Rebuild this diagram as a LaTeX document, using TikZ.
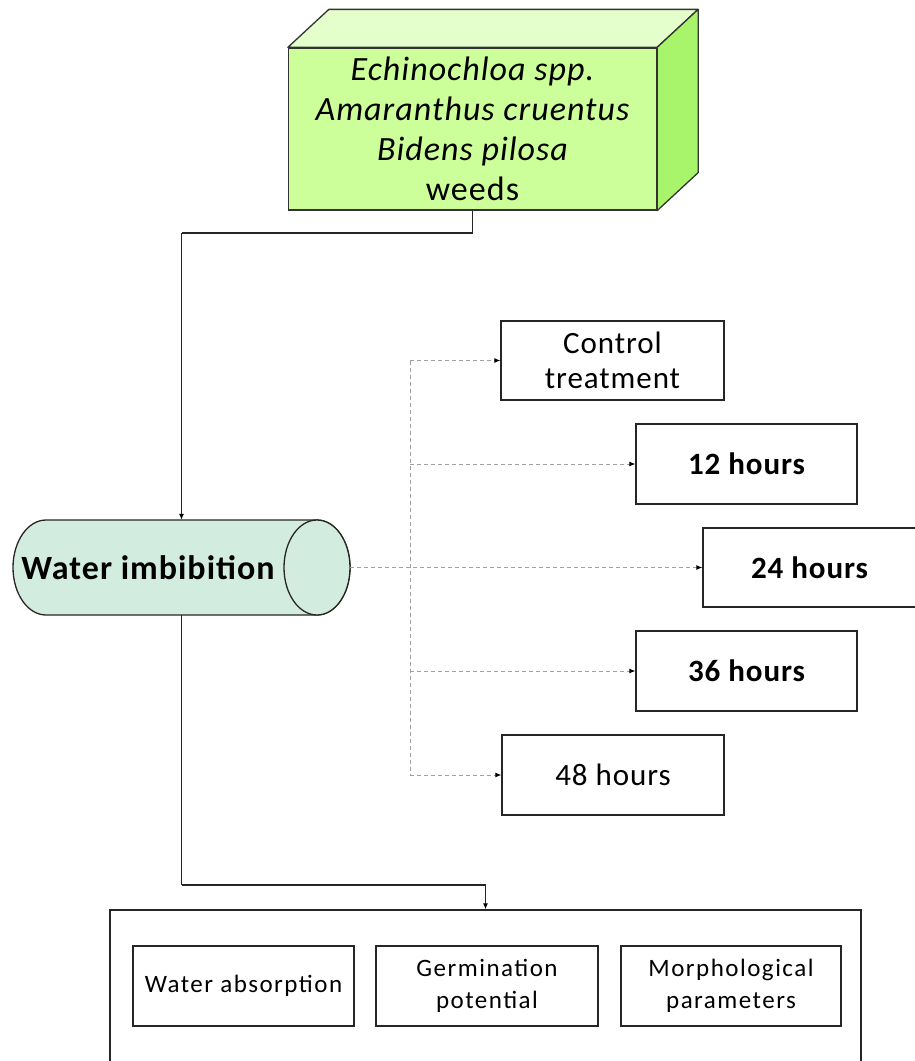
\documentclass[tikz,border=0pt]{standalone}
\usepackage{fontspec}
\setmainfont{Carlito}
\newfontfamily\smallfont{Carlito}[LetterSpace=6]
\newfontfamily\midfont{Carlito}[LetterSpace=3]
\usetikzlibrary{arrows.meta,calc}
\definecolor{cubefront}{HTML}{CCFF99}
\definecolor{cubetop}{HTML}{E4FFCC}
\definecolor{cubeside}{HTML}{A8F46A}
\definecolor{cylfill}{HTML}{D2ECDF}
\definecolor{dashgray}{HTML}{A0A0A0}
\tikzset{
  box/.style={draw=black!85, line width=1.3pt, fill=white, inner sep=0pt, align=center},
  bigtxt/.style={font=\midfont\fontsize{31}{38}\selectfont},
  boldtxt/.style={font=\midfont\bfseries\fontsize{31}{38}\selectfont},
  smalltxt/.style={font=\smallfont\fontsize{25}{32}\selectfont},
  conn/.style={draw=black!85, line width=1.4pt},
  tip/.style={-{Latex[length=6pt,width=5pt,color=black]}},
  dsh/.style={draw=dashgray, line width=0.9pt, dash pattern=on 4pt off 3pt},
}
\begin{document}
\begin{tikzpicture}[x=1pt,y=-1pt]
\useasboundingbox (0,0) rectangle (914,1061);
% cube
\node[draw=black!80, line width=1.3pt, fill=cubefront, minimum width=368pt, minimum height=162pt, inner sep=0pt, align=center,
      font=\midfont\fontsize{34}{40}\selectfont] (cube) at (472.5,129)
  {\itshape Echinochloa spp.\\ \itshape Amaranthus cruentus\\ \itshape Bidens pilosa\\ weeds};
\draw[draw=black!80, line width=1.3pt, fill=cubetop, line join=round]
  (cube.north west) -- ++(41,-38) -- ($(cube.north east)+(41,-38)$) -- (cube.north east) -- cycle;
\draw[draw=black!80, line width=1.3pt, fill=cubeside, line join=round]
  (cube.north east) -- ++(41,-38) -- ($(cube.south east)+(41,-38)$) -- (cube.south east) -- cycle;
% cylinder
\draw[draw=black!85, line width=1.3pt, fill=cylfill]
  (46,520) -- (317,520) arc[start angle=-90, end angle=90, x radius=33, y radius=47.5]
  -- (46,615) arc[start angle=90, end angle=270, x radius=33, y radius=47.5] -- cycle;
\draw[draw=black!85, line width=1.3pt, fill=cylfill] (317,567.5) ellipse[x radius=33, y radius=47.5];
\node[minimum width=337pt, minimum height=95pt, inner sep=0pt,
      font=\midfont\bfseries\fontsize{34}{40}\selectfont] (wi) at (181.5,567.5) {Water imbibition\hspace*{67pt}};
% time boxes
\node[box, bigtxt, minimum width=223pt, minimum height=79pt] (ctrl) at (612.5,360.5) {Control\\[-3pt]treatment};
\node[box, boldtxt, minimum width=221pt, minimum height=80pt] (h12) at (746.5,464) {12 hours};
\node[box, boldtxt, minimum width=213pt, minimum height=79pt] (h24) at (809.5,567.5) {24 hours};
\node[box, boldtxt, minimum width=221pt, minimum height=80pt] (h36) at (746.5,671) {36 hours};
\node[box, bigtxt, minimum width=222pt, minimum height=80pt] (h48) at (613,775) {48 hours};
% bottom box
\node[box, line width=1.3pt, fill=none, minimum width=751pt, minimum height=155pt] (big) at (485.5,987.5) {};
\node[box, smalltxt, line width=1.1pt, minimum width=221pt, minimum height=80pt] (wa) at (243.5,986) {Water absorption};
\node[box, smalltxt, line width=1.1pt, minimum width=222pt, minimum height=80pt] (gp) at (487,986) {Germination\\potential};
\node[box, smalltxt, line width=1.1pt, minimum width=220pt, minimum height=80pt] (mp) at (731,986) {Morphological\\parameters};
% solid connectors
\coordinate (j1) at (wi.north |- 0,233);
\draw[conn] (cube.south) |- (j1);
\draw[conn, tip] (j1) -- (wi.north);
\coordinate (j2) at (wi.south |- 0,885);
\draw[conn] (wi.south) -- (j2);
\draw[conn, tip] (j2) -| (big.north);
% dashed connectors
\coordinate (bus) at (410,0);
\draw[dsh] (bus |- ctrl.west) -- (bus |- h48.west);
\draw[dsh, tip] (wi.east) -- (h24.west);
\draw[dsh, tip] (bus |- ctrl.west) -- (ctrl.west);
\draw[dsh, tip] (bus |- h12.west) -- (h12.west);
\draw[dsh, tip] (bus |- h36.west) -- (h36.west);
\draw[dsh, tip] (bus |- h48.west) -- (h48.west);
\end{tikzpicture}
\end{document}
